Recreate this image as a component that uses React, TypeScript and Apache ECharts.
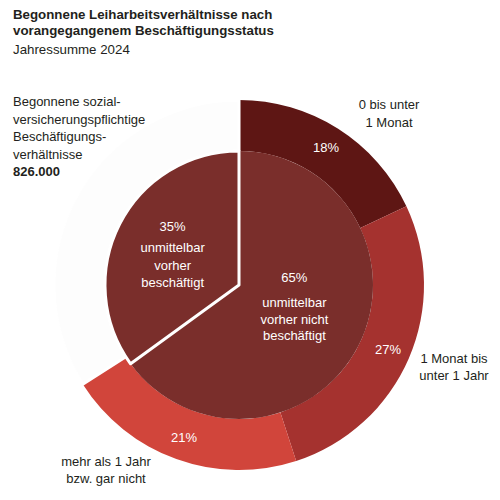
import { useEffect, useRef } from "react";
import * as echarts from "echarts";

// inner pie: vorher beschäftigt / nicht beschäftigt
const innerLabels = ["unmittelbar\nvorher nicht\nbeschäftigt", "unmittelbar\nvorher\nbeschäftigt"];
const innerValues = [65, 35];

// outer ring: Dauer der Nichtbeschäftigung
const outerLabels = ["0 bis unter\n1 Monat", "1 Monat bis\nunter 1 Jahr", "mehr als 1 Jahr\nbzw. gar nicht"];
const outerValues = [18, 27, 21];
const outerRest = 100 - outerValues.reduce((a, b) => a + b, 0);

const titleLines = ["Begonnene Leiharbeitsverhältnisse nach", "vorangegangenem Beschäftigungsstatus"];
const subtitle = "Jahressumme 2024";
const noteLines = ["Begonnene sozial-", "versicherungspflichtige", "Beschäftigungs-", "verhältnisse"];
const noteTotal = "826.000";

const FONT = '"Liberation Sans", Arial, sans-serif';
const TEXT = "#231f20";
const INNER_COLOR = "#7a2e2b";
const OUTER_COLORS = ["#5e1614", "#a5322f", "#d1453b"];
const CENTER: [number, number] = [239, 285];

// where the outer category names sit (centre x, top y, line height)
const outerNamePos = [
  { x: 389, y: 95, lh: 18 },
  { x: 454, y: 350, lh: 17 },
  { x: 106, y: 453, lh: 17 },
];
// per inner slice: label nudge, gap under the percentage, line height of the text
const innerLabelStyle = [
  { offset: [-7, -15], gap: 35, lh: 16.5 },
  { offset: [-4, 0], gap: 24.5, lh: 17.5 },
];

function buildOption() {
  const graphic: any[] = [
    {
      type: "text",
      left: 13,
      top: 6,
      silent: true,
      style: { text: titleLines.join("\n"), font: `bold 13.3px ${FONT}`, lineHeight: 16, fill: TEXT },
    },
    {
      type: "text",
      left: 13,
      top: 41,
      silent: true,
      style: { text: subtitle, font: `13.3px ${FONT}`, lineHeight: 16, fill: TEXT },
    },
    {
      type: "text",
      left: 13,
      top: 95,
      silent: true,
      style: {
        text: noteLines.map((l) => `{n|${l}}`).join("\n") + `\n{b|${noteTotal}}`,
        fill: TEXT,
        rich: {
          n: { font: `13px ${FONT}`, lineHeight: 17.5, fill: TEXT },
          b: { font: `bold 13px ${FONT}`, lineHeight: 17.5, fill: TEXT },
        },
      },
    },
    ...outerLabels.map((name, i) => ({
      type: "text",
      x: outerNamePos[i].x,
      y: outerNamePos[i].y,
      silent: true,
      style: {
        text: name,
        align: "center",
        verticalAlign: "top",
        font: `13px ${FONT}`,
        lineHeight: outerNamePos[i].lh,
        fill: TEXT,
      },
    })),
  ];

  return {
    animation: false,
    graphic,
    series: [
      {
        type: "pie",
        center: CENTER,
        radius: [134, 185],
        startAngle: 90,
        clockwise: true,
        silent: true,
        avoidLabelOverlap: false,
        labelLine: { show: false },
        label: {
          show: true,
          position: "inside",
          formatter: "{c}%",
          color: "#fff",
          fontFamily: FONT,
          fontSize: 13,
        },
        data: [
          ...outerValues.map((v, i) => ({
            value: v,
            name: outerLabels[i],
            itemStyle: { color: OUTER_COLORS[i] },
          })),
          {
            value: outerRest,
            name: "rest",
            label: { show: false },
            itemStyle: { color: "#fdfdfd", borderColor: "#fff", borderWidth: 3 },
          },
        ],
      },
      {
        type: "pie",
        center: CENTER,
        radius: [0, 134],
        startAngle: 90,
        clockwise: true,
        silent: true,
        avoidLabelOverlap: false,
        labelLine: { show: false },
        data: innerValues.map((v, i) => {
          const s = innerLabelStyle[i];
          return {
            value: v,
            name: innerLabels[i],
            label: {
              show: true,
              position: "inside",
              offset: s.offset,
              formatter: (p: any) => `{p|${p.value}%}\n{t|${p.name.split("\n").join("}\n{t|")}}`,
              rich: {
                p: { color: "#fff", fontFamily: FONT, fontSize: 13, lineHeight: s.gap, align: "center" },
                t: { color: "#fff", fontFamily: FONT, fontSize: 13, lineHeight: s.lh, align: "center" },
              },
            },
            itemStyle:
              i === 1
                ? { color: INNER_COLOR, borderColor: "#fff", borderWidth: 3 }
                : { color: INNER_COLOR },
          };
        }),
      },
    ],
  };
}

export default function App() {
  const ref = useRef<HTMLDivElement | null>(null);

  useEffect(() => {
    if (!ref.current) return;
    const chart = echarts.init(ref.current, undefined, { renderer: "svg" });
    chart.setOption(buildOption() as any);
    return () => {
      chart.dispose();
    };
  }, []);

  return (
    <div
      ref={ref}
      style={{ position: "fixed", left: 0, top: 0, width: 500, height: 500, background: "#fff" }}
    />
  );
}
